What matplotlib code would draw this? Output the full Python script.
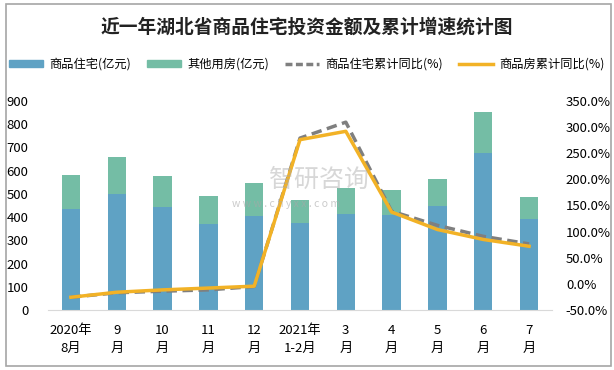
import matplotlib.pyplot as plt
from matplotlib.patches import Rectangle
from matplotlib.lines import Line2D
from matplotlib.ticker import FuncFormatter
import numpy as np

plt.rcParams['font.family'] = ['Noto Sans CJK SC', 'DejaVu Sans']

# 数据
months = ['2020年\n8月', '9\n月', '10\n月', '11\n月', '12\n月', '2021年\n1-2月',
          '3\n月', '4\n月', '5\n月', '6\n月', '7\n月']
residential = [436, 501, 445, 372, 406, 376, 415, 408, 449, 674, 393]
other = [147, 156, 134, 120, 143, 99, 112, 110, 113, 177, 95]
res_growth = [-25.6, -17.0, -14.0, -11.5, -5.0, 279.0, 309.5, 139.0, 112.0, 91.0, 76.5]
all_growth = [-25.6, -16.0, -11.5, -8.0, -4.4, 276.0, 292.0, 137.5, 104.0, 85.0, 72.0]

c_res = '#5FA2C4'
c_other = '#74BDA5'
c_gray = '#7F7F7F'
c_orange = '#F2B226'

fig = plt.figure(figsize=(6.14, 3.70), dpi=100)
fig.patches.append(Rectangle((6 / 614, 4 / 370), 605 / 614, 362 / 370, transform=fig.transFigure,
                             fill=False, edgecolor='#A6A6A6', linewidth=1.2))

ax1 = fig.add_axes([48 / 614, 60 / 370, 504 / 614, 209 / 370])
ax2 = ax1.twinx()

x = np.arange(len(months))
ax1.bar(x, residential, width=0.4, color=c_res, zorder=2)
ax1.bar(x, other, width=0.4, bottom=residential, color=c_other, zorder=2)

ax2.plot(x, res_growth, color=c_gray, linewidth=2.5, linestyle=(0, (3, 1.6)), zorder=3)
ax2.plot(x, all_growth, color=c_orange, linewidth=2.5, zorder=4)

ax1.set_xlim(-0.5, len(months) - 0.5)
ax1.set_ylim(0, 900)
ax1.set_yticks(range(0, 901, 100))
ax2.set_ylim(-50, 350)
ax2.set_yticks(range(-50, 351, 50))
ax2.yaxis.set_major_formatter(FuncFormatter(lambda v, p: f'{v:.1f}%'))

ax1.set_xticks(x)
ax1.set_xticklabels(months, fontsize=9.5, linespacing=1.55)

for ax in (ax1, ax2):
    for s in ax.spines.values():
        s.set_visible(False)
    ax.tick_params(length=0, labelsize=9.5)
ax1.spines['bottom'].set_visible(True)
ax1.spines['bottom'].set_color('#D9D9D9')
ax1.tick_params(axis='x', pad=10)
ax1.tick_params(axis='y', pad=14)
ax2.tick_params(axis='y', pad=10)
ax2.set_zorder(ax1.get_zorder() + 1)
ax2.patch.set_visible(False)

# 水印
fig.text(0.52, 1 - 180 / 370, '智研咨询', fontsize=18, color='#A8A8A8', alpha=0.45,
         ha='center', va='center')
fig.text(0.465, 1 - 204 / 370, 'w w w . c h y x x . c o m', fontsize=7.5, color='#A8A8A8',
         alpha=0.6, ha='center', va='center')

fig.text(0.5, 1 - 27 / 370, '近一年湖北省商品住宅投资金额及累计增速统计图', fontsize=13.5,
         fontweight='bold', ha='center', va='center', color='#222222')

handles = [Rectangle((0, 0), 1, 1, color=c_res), Rectangle((0, 0), 1, 1, color=c_other),
           Line2D([], [], color=c_gray, linewidth=2.5, linestyle=(0, (2, 1))),
           Line2D([], [], color=c_orange, linewidth=2.5)]
labels = ['商品住宅(亿元)', '其他用房(亿元)', '商品住宅累计同比(%)', '商品房累计同比(%)']
fig.legend(handles, labels, loc='center', bbox_to_anchor=(0.5, 1 - 64 / 370), ncol=4,
           frameon=False, fontsize=8.8, handlelength=2.8, handleheight=0.5, columnspacing=1.3,
           handletextpad=0.5)

fig.savefig('out.png', dpi=100)
